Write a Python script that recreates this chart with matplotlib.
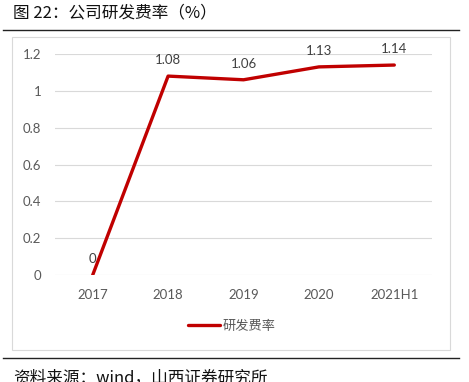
import matplotlib.pyplot as plt
from matplotlib.patches import Rectangle
from matplotlib.lines import Line2D

plt.rcParams['font.family'] = ['Noto Sans CJK SC', 'DejaVu Sans']

years = ['2017', '2018', '2019', '2020', '2021H1']
rate = [0, 1.08, 1.06, 1.13, 1.14]
rate_labels = ['0', '1.08', '1.06', '1.13', '1.14']

W, H = 469, 382
fig = plt.figure(figsize=(W / 100, H / 100), dpi=100)

# outer frame and rules (pixel coords -> figure fraction)
def fx(x):
    return x / W

def fy(y):
    return 1 - y / H

fig.patches.append(Rectangle((fx(12), fy(350)), fx(450) - fx(12), fy(37) - fy(350),
                             transform=fig.transFigure, fill=False,
                             edgecolor='#d9d9d9', linewidth=0.8))
fig.lines.append(Line2D([fx(3), fx(459)], [fy(30), fy(30)], transform=fig.transFigure,
                        color='#222222', linewidth=1.0))
fig.lines.append(Line2D([fx(3), fx(459)], [fy(358), fy(358)], transform=fig.transFigure,
                        color='#222222', linewidth=1.0))

fig.text(fx(13), fy(13), '图 22：公司研发费率（%）', fontsize=12, color='#111111',
         va='center', ha='left')
fig.text(fx(13), fy(378), '资料来源：wind，山西证券研究所', fontsize=12, color='#111111',
         va='center', ha='left')

ax = fig.add_axes([fx(55), fy(275), fx(432) - fx(55), fy(54) - fy(275)])
x = list(range(len(years)))
ax.plot(x, rate, color='#c00000', linewidth=2.4, label='研发费率', solid_capstyle='round')
for xi, v, s in zip(x, rate, rate_labels):
    ax.annotate(s, (xi, v), xytext=(0, 7), textcoords='offset points', ha='center',
                va='bottom', fontsize=9.5, color='#404040', family=['Lato', 'DejaVu Sans'])

ax.set_xlim(-0.5, len(years) - 0.5)
ax.set_ylim(0, 1.2)
ax.set_yticks([0, 0.2, 0.4, 0.6, 0.8, 1, 1.2])
ax.set_yticklabels(['0', '0.2', '0.4', '0.6', '0.8', '1', '1.2'])
ax.set_xticks(x)
ax.set_xticklabels(years)
ax.grid(axis='y', color='#d9d9d9', linewidth=0.8)
ax.set_axisbelow(True)
for sp in ax.spines.values():
    sp.set_visible(False)
ax.tick_params(length=0, labelsize=9.5, colors='#595959', pad=10)
for lbl in ax.get_xticklabels() + ax.get_yticklabels():
    lbl.set_family(['Lato', 'DejaVu Sans'])
ax.patch.set_alpha(0)

leg = fig.legend(loc='center', bbox_to_anchor=(fx(232), fy(326)), frameon=False,
                 fontsize=9.5, handlelength=2.4, handletextpad=0.2)
for t in leg.get_texts():
    t.set_color('#595959')

fig.savefig('out.png', dpi=100)
